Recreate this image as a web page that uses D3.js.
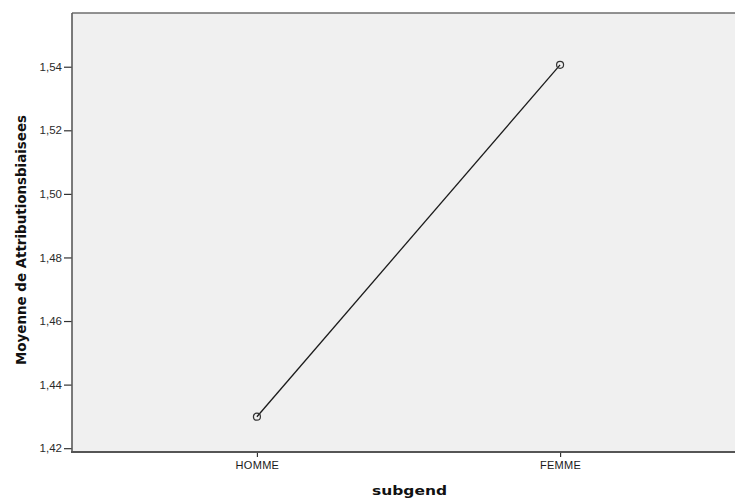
<!DOCTYPE html>
<html><head><meta charset="utf-8">
<script src="https://cdn.jsdelivr.net/npm/d3@7"></script>
<style>body{margin:0;background:#fff}svg{display:block}</style>
</head><body>
<script>
const categories = ["HOMME", "FEMME"];
const means = [1.4299, 1.5406];
const yTicks = [1.42, 1.44, 1.46, 1.48, 1.50, 1.52, 1.54];
const xTitle = "subgend";
const yTitle = "Moyenne de Attributionsbiaisees";

const W = 735, H = 500;
const plot = {left: 72, top: 13, right: 745, bottom: 452};
const svg = d3.select("body").append("svg").attr("width", W).attr("height", H);

const x = d3.scalePoint().domain(categories).range([plot.left, plot.right]).padding(0.61);
const y = d3.scaleLinear().domain([1.4188, 1.5569]).range([plot.bottom, plot.top]);

svg.append("rect").attr("x", plot.left).attr("y", plot.top)
  .attr("width", plot.right - plot.left).attr("height", plot.bottom - plot.top)
  .attr("fill", "#f0f0f0");
// top border
svg.append("line").attr("x1", plot.left).attr("x2", plot.right).attr("y1", plot.top).attr("y2", plot.top)
  .attr("stroke", "#6e6e6e").attr("stroke-width", 1.5);

const fmt = d => d.toFixed(2).replace(".", ",");
const yAxis = d3.axisLeft(y).tickValues(yTicks).tickFormat(fmt).tickSize(8).tickPadding(2);
const gy = svg.append("g").attr("transform", `translate(${plot.left},0)`).call(yAxis);
gy.select(".domain").remove();
gy.append("line").attr("x1", 0).attr("x2", 0).attr("y1", plot.top).attr("y2", plot.bottom)
  .attr("stroke", "#5a5a5a").attr("stroke-width", 1.6);
gy.selectAll(".tick line").attr("stroke", "#333").attr("stroke-width", 1.2);
gy.selectAll(".tick text").attr("font-family", "Liberation Sans, Arial, sans-serif")
  .attr("font-size", 11.5).attr("fill", "#2a2a2a");

const xAxis = d3.axisBottom(x).tickSize(5).tickPadding(4);
const gx = svg.append("g").attr("transform", `translate(0,${plot.bottom})`).call(xAxis);
gx.select(".domain").remove();
gx.append("line").attr("x1", plot.left - 1).attr("x2", plot.right).attr("y1", 0).attr("y2", 0)
  .attr("stroke", "#555").attr("stroke-width", 2);
gx.selectAll(".tick line").attr("stroke", "#333").attr("stroke-width", 1.2);
gx.selectAll(".tick text").attr("font-family", "Liberation Sans, Arial, sans-serif")
  .attr("font-size", 11).attr("fill", "#1a1a1a").attr("letter-spacing", "0.3px");

const pts = categories.map((c, i) => [x(c), y(means[i])]);
svg.append("path").attr("d", d3.line()(pts)).attr("fill", "none")
  .attr("stroke", "#1a1a1a").attr("stroke-width", 1.3);
svg.selectAll("circle.m").data(pts).enter().append("circle")
  .attr("cx", d => d[0]).attr("cy", d => d[1]).attr("r", 3.5)
  .attr("fill", "none").attr("stroke", "#333").attr("stroke-width", 1.2);

svg.append("text").attr("x", 409.5).attr("y", 495).attr("text-anchor", "middle")
  .attr("font-family", "DejaVu Sans, sans-serif").attr("font-weight", "bold").attr("font-size", 12)
  .attr("textLength", 75).attr("lengthAdjust", "spacingAndGlyphs")
  .attr("fill", "#111").text(xTitle);

svg.append("text").attr("transform", "translate(26,240) rotate(-90)").attr("text-anchor", "middle")
  .attr("font-family", "Liberation Sans Narrow, DejaVu Sans Condensed, Arial Narrow, sans-serif")
  .attr("font-weight", "bold").attr("font-size", 14.5)
  .attr("textLength", 250).attr("lengthAdjust", "spacingAndGlyphs")
  .attr("fill", "#111").text(yTitle);
</script>
</body></html>
